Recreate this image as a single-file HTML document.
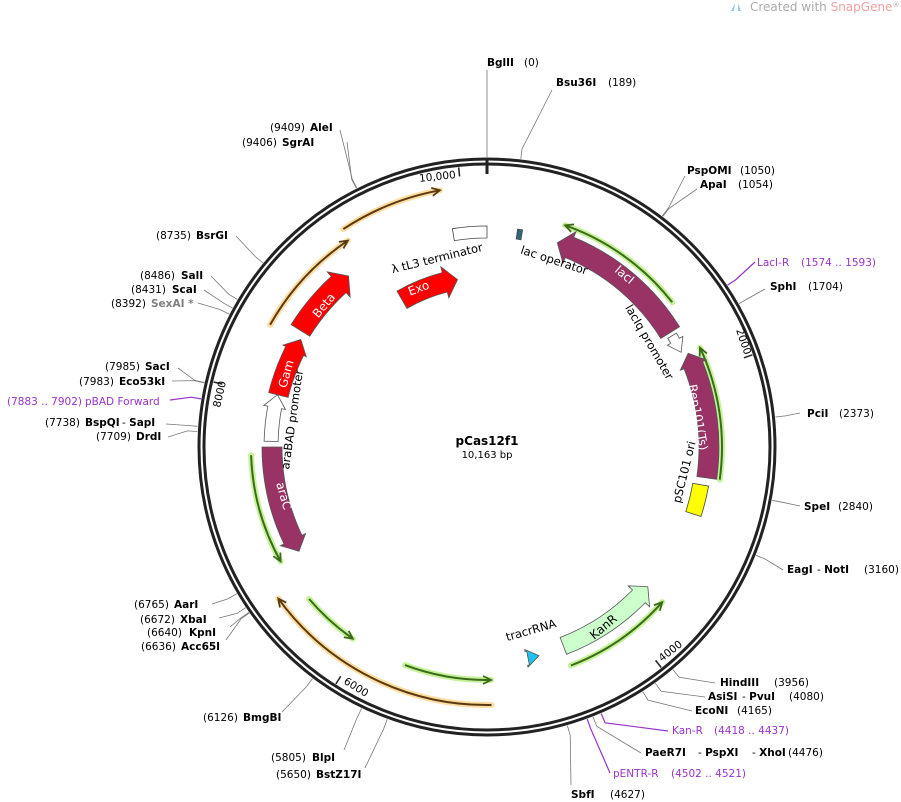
<!DOCTYPE html>
<html><head><meta charset="utf-8"><style>
html,body{margin:0;padding:0;background:#fff;}
svg{display:block;font-family:"DejaVu Sans","Liberation Sans",sans-serif;}
.b{font-weight:bold;}
text{font-size:10.5px;fill:#000;}
.p{fill:#9933cc;}
.g{fill:#808080;}
.w{fill:#fff;font-size:12px;}
</style></head><body>
<svg id="s" width="901" height="802" viewBox="0 0 901 802" xmlns="http://www.w3.org/2000/svg">
<g id="shapes"></g>
<text x="750" y="11" style="fill:#aaa;font-size:12px">Created with <tspan style="fill:#f0a0a0">SnapGene</tspan><tspan style="font-size:7px" dy="-4">®</tspan></text>
<path d="M735 3 l-4 8 h3 z M738 3 l3 8 h-3z" fill="#9cd"/>
<text x="487" y="445" text-anchor="middle" class="b" style="font-size:12px">pCas12f1</text>
<text x="487" y="458" text-anchor="middle" style="font-size:10px">10,163 bp</text>
<text x="456" y="178" text-anchor="end" transform="rotate(-6 456 178)">10,000</text>
<text x="0" y="0" transform="translate(736,330) rotate(71)">2000</text>
<text x="0" y="0" transform="translate(662,662) rotate(-38)">4000</text>
<text x="0" y="0" transform="translate(343,683) rotate(32)">6000</text>
<text x="0" y="0" transform="translate(220,408) rotate(-77)">8000</text>
<text x="0" y="0" text-anchor="middle" transform="translate(438,262) rotate(-14)" style="font-size:11.5px">λ tL3 terminator</text>
<text x="0" y="0" text-anchor="middle" transform="translate(553,264) rotate(18)" style="font-size:11.5px">lac operator</text>
<text x="0" y="0" text-anchor="middle" transform="translate(646,344) rotate(60)" style="font-size:11.5px">lacIq promoter</text>
<text x="0" y="0" text-anchor="middle" transform="translate(688,473) rotate(-76)" style="font-size:11.5px">pSC101 ori</text>
<text x="0" y="0" text-anchor="middle" transform="translate(296,420) rotate(-82)" style="font-size:11.5px">araBAD promoter</text>
<text x="0" y="0" text-anchor="middle" transform="translate(532,634) rotate(-16)" style="font-size:11.5px">tracrRNA</text>
<text x="0" y="0" text-anchor="middle" transform="translate(606,630) rotate(-40)" style="font-size:12px">KanR</text>
<text x="0" y="0" text-anchor="middle" class="w" transform="translate(420,292) rotate(-20)">Exo</text>
<text x="0" y="0" text-anchor="middle" class="w" transform="translate(327,308) rotate(-50)">Beta</text>
<text x="0" y="0" text-anchor="middle" class="w" transform="translate(290,375) rotate(-74)">Gam</text>
<text x="0" y="0" text-anchor="middle" class="w" transform="translate(622,278) rotate(40)">lacI</text>
<text x="0" y="0" text-anchor="middle" class="w" transform="translate(694,418) rotate(80)">Rep101(Ts)</text>
<text x="0" y="0" text-anchor="middle" class="w" transform="translate(280,497) rotate(74)">araC</text>
<text x="487" y="66"><tspan class="b">BglII</tspan><tspan x="524">(0)</tspan></text>
<text x="556" y="86"><tspan class="b">Bsu36I</tspan><tspan x="608">(189)</tspan></text>
<text x="687" y="174"><tspan class="b">PspOMI</tspan><tspan x="740">(1050)</tspan></text>
<text x="700" y="188"><tspan class="b">ApaI</tspan><tspan x="738">(1054)</tspan></text>
<text x="757" y="266" class="p">LacI-R<tspan x="801" class="p">(1574 .. 1593)</tspan></text>
<text x="770" y="290"><tspan class="b">SphI</tspan><tspan x="808">(1704)</tspan></text>
<text x="807" y="417"><tspan class="b">PciI</tspan><tspan x="839">(2373)</tspan></text>
<text x="804" y="510"><tspan class="b">SpeI</tspan><tspan x="838">(2840)</tspan></text>
<text x="787" y="573"><tspan class="b">EagI</tspan><tspan x="817">- <tspan class="b">NotI</tspan></tspan><tspan x="864">(3160)</tspan></text>
<text x="720" y="686"><tspan class="b">HindIII</tspan><tspan x="774">(3956)</tspan></text>
<text x="708" y="700"><tspan class="b">AsiSI</tspan><tspan x="742">- <tspan class="b">PvuI</tspan></tspan><tspan x="789">(4080)</tspan></text>
<text x="695" y="714"><tspan class="b">EcoNI</tspan><tspan x="737">(4165)</tspan></text>
<text x="672" y="734" class="p">Kan-R<tspan x="714" class="p">(4418 .. 4437)</tspan></text>
<text x="645" y="756"><tspan class="b">PaeR7I</tspan><tspan x="698">- <tspan class="b">PspXI</tspan></tspan><tspan x="752">- <tspan class="b">XhoI</tspan></tspan><tspan x="788">(4476)</tspan></text>
<text x="613" y="777" class="p">pENTR-R<tspan x="671" class="p">(4502 .. 4521)</tspan></text>
<text x="571" y="798"><tspan class="b">SbfI</tspan><tspan x="610">(4627)</tspan></text>
<text x="276" y="778">(5650)<tspan x="316" class="b">BstZ17I</tspan></text>
<text x="271" y="761">(5805)<tspan x="312" class="b">BlpI</tspan></text>
<text x="203" y="721">(6126)<tspan x="243" class="b">BmgBI</tspan></text>
<text x="141" y="650">(6636)<tspan x="181" class="b">Acc65I</tspan></text>
<text x="147" y="636">(6640)<tspan x="189" class="b">KpnI</tspan></text>
<text x="140" y="623">(6672)<tspan x="180" class="b">XbaI</tspan></text>
<text x="134" y="608">(6765)<tspan x="174" class="b">AarI</tspan></text>
<text x="96" y="440">(7709)<tspan x="136" class="b">DrdI</tspan></text>
<text x="45" y="426">(7738)<tspan x="85" class="b">BspQI</tspan><tspan x="122">- <tspan class="b">SapI</tspan></tspan></text>
<text x="7" y="405" class="p">(7883 .. 7902)<tspan x="85" class="p">pBAD Forward</tspan></text>
<text x="79" y="385">(7983)<tspan x="119" class="b">Eco53kI</tspan></text>
<text x="105" y="370">(7985)<tspan x="145" class="b">SacI</tspan></text>
<text x="111" y="307">(8392)<tspan x="151" class="b g">SexAI *</tspan></text>
<text x="131" y="293">(8431)<tspan x="172" class="b">ScaI</tspan></text>
<text x="140" y="279">(8486)<tspan x="181" class="b">SalI</tspan></text>
<text x="156" y="239">(8735)<tspan x="196" class="b">BsrGI</tspan></text>
<text x="242" y="146">(9406)<tspan x="282" class="b">SgrAI</tspan></text>
<text x="270" y="131">(9409)<tspan x="310" class="b">AleI</tspan></text>
</svg>
<script>
(function(){
var cx=487,cy=447,N=10163,g=document.getElementById('shapes'),h='';
function P(r,a){var t=a*Math.PI/180;return [(cx+r*Math.sin(t)).toFixed(1),(cy-r*Math.cos(t)).toFixed(1)];}
function arc(r,a1,a2,sw){var p=P(r,a2);return ' A'+r+','+r+' 0 '+(Math.abs(a2-a1)>180?1:0)+' '+sw+' '+p[0]+','+p[1];}
function fat(r,a1,a2,w,dir,fill,ext){var hd=13/r*180/Math.PI,ro=r+w/2,ri=r-w/2,hw=w/2+(ext==null?6:ext),d;
 if(dir==1){var b=a2-hd;d='M'+P(ro,a1)+arc(ro,a1,b,1)+' L'+P(r+hw,b)+' L'+P(r,a2)+' L'+P(r-hw,b)+' L'+P(ri,b)+arc(ri,b,a1,0)+'Z';}
 else{var b=a1+hd;d='M'+P(ro,a2)+arc(ro,a2,b,0)+' L'+P(r+hw,b)+' L'+P(r,a1)+' L'+P(r-hw,b)+' L'+P(ri,b)+arc(ri,b,a2,1)+'Z';}
 h+='<path d="'+d+'" fill="'+fill+'" stroke="#555" stroke-width="0.8"/>';}
function box(r,a1,a2,w,fill){var ro=r+w/2,ri=r-w/2;h+='<path d="M'+P(ro,a1)+arc(ro,a1,a2,1)+' L'+P(ri,a2)+arc(ri,a2,a1,0)+'Z" fill="'+fill+'" stroke="#444" stroke-width="0.8"/>';}
function thin(r,a1,a2,dir,glow,line){var d='M'+P(r,a1)+arc(r,a1,a2,1);
 h+='<path d="'+d+'" fill="none" stroke="'+glow+'" stroke-width="6" stroke-linecap="round" opacity="0.8"/>';
 h+='<path d="'+d+'" fill="none" stroke="'+line+'" stroke-width="2"/>';
 var hd=8/r*180/Math.PI,t=dir==1?a2:a1,b=dir==1?a2-hd:a1+hd;
 h+='<path d="M'+P(r+4,b)+' L'+P(r,t)+' L'+P(r-4,b)+'" fill="none" stroke="'+line+'" stroke-width="1.8"/>';}
function lead(bp,ex,ey,col){var a=bp/N*360,p1=P(290,a),p2=P(300,a);
 h+='<polyline points="'+p1+' '+p2+' '+ex+','+ey+'" fill="none" stroke="'+(col||'#777')+'" stroke-width="'+(col?1.2:0.8)+'"/>';}
h+='<circle cx="'+cx+'" cy="'+cy+'" r="288" fill="none" stroke="#222" stroke-width="3"/>';
h+='<circle cx="'+cx+'" cy="'+cy+'" r="283" fill="none" stroke="#222" stroke-width="3"/>';
h+='<rect x="485.5" y="158" width="3" height="16" fill="#222"/>';
[10000,2000,4000,6000,8000].forEach(function(v){var a=v/N*360,p=P(281,a),q=P(272,a);h+='<line x1="'+p[0]+'" y1="'+p[1]+'" x2="'+q[0]+'" y2="'+q[1]+'" stroke="#222" stroke-width="1.5"/>';});
h+='<line x1="487" y1="157" x2="487" y2="70" stroke="#777" stroke-width="0.8"/>';
lead(189,552,90);lead(1050,685,176);lead(1054,697,189);lead(1583,755,262,'#9933cc');lead(1704,765,289);
lead(2373,800,413);lead(2840,800,506);lead(3160,783,570);lead(3956,715,683);lead(4080,705,697);lead(4165,692,711);
lead(4427,668,731,'#9933cc');lead(4476,641,753);lead(4511,610,773,'#9933cc');lead(4627,571,785);
lead(5650,365,768);lead(5805,344,750);lead(6126,282,712);lead(6636,226,640);lead(6640,230,627);lead(6672,219,618);lead(6765,212,604);
lead(7709,168,437);lead(7738,166,424);lead(7892,170,400,'#9933cc');lead(7983,172,381);lead(7985,178,368);
lead(8392,198,303);lead(8431,204,290);lead(8486,211,276);lead(8735,236,236);lead(9406,347,142);lead(9409,340,130);
var G1='#b8f080',L1='#3a6a1a',G2='#fcd58a',L2='#5a3a10';
thin(249,-60.6,-34,1,G2,L2);thin(261,-33.4,-10.4,1,G2,L2);
thin(235,19.4,52,-1,G1,L1);thin(235,65,98,-1,G1,L1);thin(234,131.5,159,-1,G1,L1);
thin(233,179,200.6,-1,G1,L1);thin(234,215,229.5,-1,G1,L1);thin(258,179,234,1,G2,L2);thin(236,241,268,-1,G1,L1);
var PU='#993366';
fat(220,-58,-39,22,1,'#ff0000');fat(215,-76,-60,20,1,'#ff0000',3);fat(170,-30,-10,20,1,'#ff0000');
box(215,-9,0,12,'#fff');box(215,8,9.3,10,'#336677');
fat(216,19,58,22,-1,PU);fat(216,59,64,10,1,'#fff',4);
fat(222,65,98,20,-1,PU,4);box(217,100,108,16,'#ffff00');
fat(213,131,159,18,-1,'#ccffcc');fat(215,166,169,14,-1,'#20c0f0',2);
fat(215,241,270,20,-1,PU,4);fat(216,271.5,284,14,1,'#fff',4);
g.innerHTML=h;
})();
</script>
</body></html>
